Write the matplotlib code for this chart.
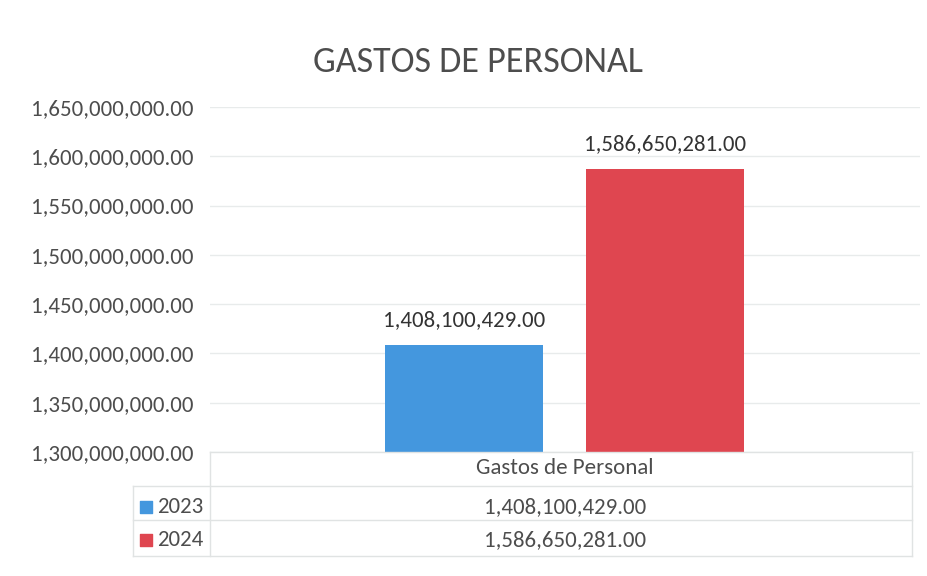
import matplotlib
matplotlib.use("Agg")
import matplotlib.pyplot as plt
from matplotlib import font_manager
from matplotlib.ticker import FuncFormatter

# data
category = "Gastos de Personal"
years = ["2023", "2024"]
values = [1408100429.00, 1586650281.00]
colors = ["#4497de", "#df4650"]
y_ticks = [1300000000, 1350000000, 1400000000, 1450000000,
           1500000000, 1550000000, 1600000000, 1650000000]

# Calibri look-alike if present
names = {f.name for f in font_manager.fontManager.ttflist}
fam = "Carlito" if "Carlito" in names else "Lato"
plt.rcParams["font.family"] = [fam, "DejaVu Sans"]
txt = "#4d4d4d"
fs = 16.5

W, H = 928, 576
fig = plt.figure(figsize=(W / 100, H / 100), dpi=100)
fig.patch.set_facecolor("white")

# plot area in pixels: left 210, right 920, top 107, bottom 452
ax = fig.add_axes([210 / W, 1 - 452 / H, 710 / W, 345 / H])
ax.set_facecolor("none")

offsets = [-0.142, 0.141]
bw = 0.223
for yr, v, c, off in zip(years, values, colors, offsets):
    ax.bar(off, v, width=bw, color=c, zorder=2)
    ax.annotate(f"{v:,.2f}", xy=(off, v), xytext=(0, 11), textcoords="offset points",
                ha="center", va="bottom", fontsize=fs, color="#333333")

ax.set_xlim(-0.5, 0.5)
ax.set_ylim(y_ticks[0], y_ticks[-1])
ax.set_yticks(y_ticks)
ax.yaxis.set_major_formatter(FuncFormatter(lambda v, p: f"{v:,.2f}"))
ax.tick_params(axis="y", length=0, pad=12, labelsize=fs, labelcolor=txt)
ax.set_xticks([])
ax.grid(axis="y", color="#e8ebeb", lw=1, zorder=0)
for s in ax.spines.values():
    s.set_visible(False)

fig.text(478 / W, 1 - 62 / H, "GASTOS DE PERSONAL", ha="center", va="center",
         fontsize=26, color=txt)

# data table under the axis
def ya(py):
    return -(py - 452) / 345

def xa(px):
    return (px - 210) / 710

lc = "#e0e3e3"
kw = dict(transform=ax.transAxes, clip_on=False, color=lc, lw=1)
ax.plot([0, xa(912)], [0, 0], **kw)
for py in [486, 520, 556]:
    ax.plot([xa(133), xa(912)], [ya(py), ya(py)], **kw)
ax.plot([0, 0], [0, ya(556)], **kw)
ax.plot([xa(912), xa(912)], [0, ya(556)], **kw)
ax.plot([xa(133), xa(133)], [ya(486), ya(556)], **kw)

ax.text(0.5, ya(468), category, transform=ax.transAxes, ha="center", va="center",
        fontsize=fs, color=txt)
for i, (yr, v, c) in enumerate(zip(years, values, colors)):
    yy = ya(507 + 33 * i)
    ax.scatter([xa(146)], [yy], marker="s", s=75, color=c, transform=ax.transAxes,
               clip_on=False, zorder=3)
    ax.text(xa(157), yy, yr, transform=ax.transAxes, ha="left", va="center",
            fontsize=fs, color=txt)
    ax.text(0.5, yy, f"{v:,.2f}", transform=ax.transAxes, ha="center", va="center",
            fontsize=fs, color=txt)

fig.savefig("out.png", dpi=100)
